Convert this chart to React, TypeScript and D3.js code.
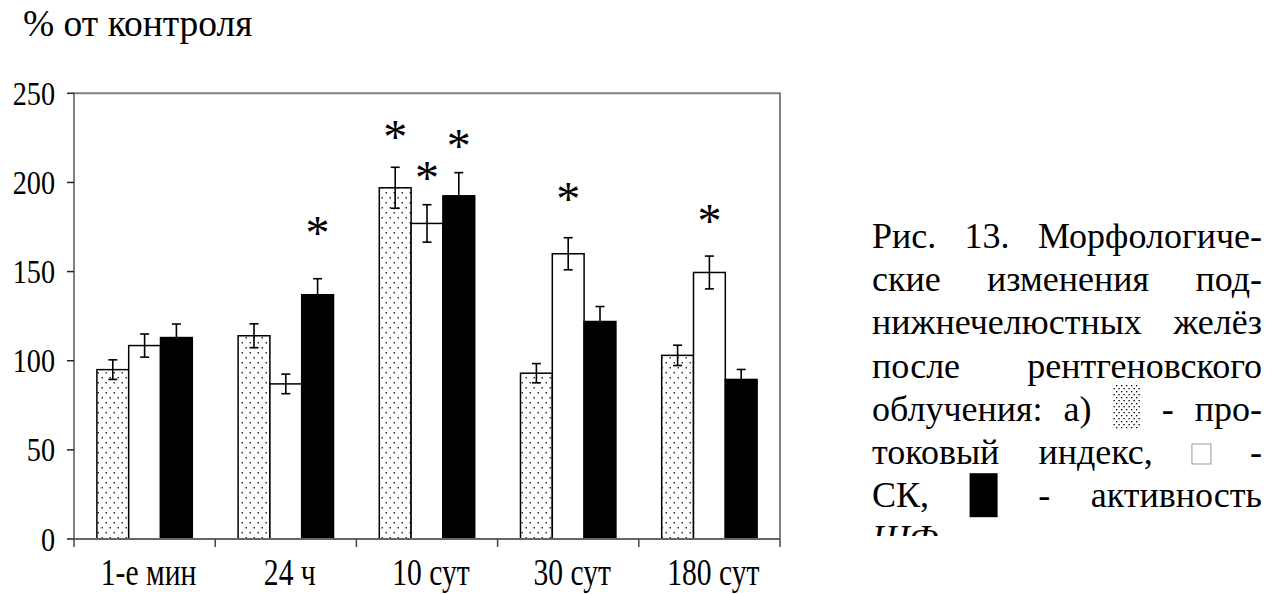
import React, { useRef, useEffect } from 'react';
import * as d3 from 'd3';

const categories = ['1-е мин', '24 ч', '10 сут', '30 сут', '180 сут'];
const seriesKeys = ['index', 'sk', 'shf'];

// проточковый индекс (dotted)
const indexValues = [95, 114, 197, 93, 103];
const indexErrors = [5.5, 6.7, 11.5, 5.4, 5.7];
// СК (white)
const skValues = [108.5, 87, 177, 160, 149.5];
const skErrors = [6.5, 5.5, 10.5, 9, 9.2];
// активность ЩФ (black)
const shfValues = [113, 137, 192.5, 122, 89.5];
const shfErrors = [7.6, 9, 13, 8.4, 5.6];

// asterisk positions (value units), null = no mark
const indexStars = [null, null, 229, null, null];
const skStars = [null, null, 206, 194, 182];
const shfStars = [null, 175, 224, null, null];

const yTicks = [0, 50, 100, 150, 200, 250];
const yTitle = '% от контроля';

type Item = string | { sw: 'dot' | 'white' | 'black' };
const captionLines: { items: Item[]; justify: boolean; italic?: boolean }[] = [
  { items: ['Рис.', '13.', 'Морфологиче-'], justify: true },
  { items: ['ские', 'изменения', 'под-'], justify: true },
  { items: ['нижнечелюстных', 'желёз'], justify: true },
  { items: ['после', 'рентгеновского'], justify: true },
  { items: ['облучения:', 'а)', { sw: 'dot' }, '-', 'про-'], justify: true },
  { items: ['токовый', 'индекс,', { sw: 'white' }, '-'], justify: true },
  { items: ['СК,', { sw: 'black' }, '-', 'активность'], justify: true },
  { items: ['ЩФ'], justify: false, italic: true }
];

const FONT = "'Liberation Serif', 'Times New Roman', 'DejaVu Serif', serif";

export default function App() {
  const svgRef = useRef<SVGSVGElement>(null);

  useEffect(() => {
    if (!svgRef.current) return;
    const svg = d3.select(svgRef.current);
    svg.selectAll('*').remove();

    const left = 74, right = 780, top = 93.3, bottom = 539;

    const defs = svg.append('defs');
    const pat = defs
      .append('pattern')
      .attr('id', 'dots')
      .attr('patternUnits', 'userSpaceOnUse')
      .attr('width', 8)
      .attr('height', 10);
    pat.append('rect').attr('width', 8).attr('height', 10).attr('fill', '#fff');
    pat.append('rect').attr('x', 1.5).attr('y', 2).attr('width', 1.5).attr('height', 1.5).attr('fill', '#333');
    pat.append('rect').attr('x', 5.5).attr('y', 7).attr('width', 1.5).attr('height', 1.5).attr('fill', '#333');

    const pat2 = defs
      .append('pattern')
      .attr('id', 'dotsFine')
      .attr('patternUnits', 'userSpaceOnUse')
      .attr('width', 5)
      .attr('height', 6);
    pat2.append('rect').attr('width', 5).attr('height', 6).attr('fill', '#fff');
    pat2.append('rect').attr('x', 1).attr('y', 1).attr('width', 1.3).attr('height', 1.3).attr('fill', '#000');
    pat2.append('rect').attr('x', 3.5).attr('y', 4).attr('width', 1.3).attr('height', 1.3).attr('fill', '#000');

    defs
      .append('clipPath')
      .attr('id', 'capClip')
      .append('rect')
      .attr('x', 800)
      .attr('y', 0)
      .attr('width', 466)
      .attr('height', 536);

    const x = d3.scaleBand<string>().domain(categories).range([left, right]);
    const xs = d3
      .scaleBand<string>()
      .domain(seriesKeys)
      .range([0, x.bandwidth()])
      .paddingInner(0)
      .paddingOuter(0.72);
    const y = d3.scaleLinear().domain([0, 250]).range([bottom, top]);

    // title
    svg
      .append('text')
      .attr('x', 23)
      .attr('y', 36)
      .style('font-family', FONT)
      .attr('font-size', 37.5)
      .text(yTitle);

    // frame
    svg
      .append('path')
      .attr('d', `M${left},${bottom}V${top}H${right}V${bottom}`)
      .attr('fill', 'none')
      .attr('stroke', '#808080')
      .attr('stroke-width', 2);

    // y ticks + labels
    yTicks.forEach((t) => {
      svg
        .append('line')
        .attr('x1', left - 7)
        .attr('x2', left)
        .attr('y1', y(t))
        .attr('y2', y(t))
        .attr('stroke', '#222')
        .attr('stroke-width', 1.5);
      svg
        .append('g')
        .attr('transform', `translate(55,${y(t) + 11.5})`)
        .append('text')
        .attr('transform', 'scale(0.83,1)')
        .attr('text-anchor', 'end')
        .style('font-family', FONT)
        .attr('font-size', 34)
        .text(t);
    });

    const series = [
      { key: 'index', vals: indexValues, errs: indexErrors, stars: indexStars, fill: 'url(#dots)' },
      { key: 'sk', vals: skValues, errs: skErrors, stars: skStars, fill: '#fff' },
      { key: 'shf', vals: shfValues, errs: shfErrors, stars: shfStars, fill: '#000' }
    ];

    series.forEach((s) => {
      categories.forEach((c, i) => {
        const bx = (x(c) as number) + (xs(s.key) as number);
        const bw = xs.bandwidth();
        svg
          .append('rect')
          .attr('x', bx)
          .attr('y', y(s.vals[i]))
          .attr('width', bw)
          .attr('height', bottom - y(s.vals[i]))
          .attr('fill', s.fill)
          .attr('stroke', '#000')
          .attr('stroke-width', 1.5);
      });
    });

    // error bars + asterisks
    series.forEach((s) => {
      categories.forEach((c, i) => {
        const cx = (x(c) as number) + (xs(s.key) as number) + xs.bandwidth() / 2;
        const hi = y(s.vals[i] + s.errs[i]);
        const lo = y(s.vals[i] - s.errs[i]);
        const eb = svg.append('g').attr('stroke', '#000').attr('stroke-width', 1.6);
        eb.append('line').attr('x1', cx).attr('x2', cx).attr('y1', hi).attr('y2', lo);
        eb.append('line').attr('x1', cx - 4.5).attr('x2', cx + 4.5).attr('y1', hi).attr('y2', hi);
        eb.append('line').attr('x1', cx - 4.5).attr('x2', cx + 4.5).attr('y1', lo).attr('y2', lo);
        const st = s.stars[i];
        if (st != null) {
          svg
            .append('text')
            .attr('x', cx)
            .attr('y', y(st) + 22)
            .attr('text-anchor', 'middle')
            .style('font-family', FONT)
            .attr('font-size', 48)
            .text('*');
        }
      });
    });

    // x axis line + ticks + labels
    svg
      .append('line')
      .attr('x1', left)
      .attr('x2', right)
      .attr('y1', bottom)
      .attr('y2', bottom)
      .attr('stroke', '#666')
      .attr('stroke-width', 2);
    [...categories.map((c) => x(c) as number), right].forEach((tx) => {
      svg
        .append('line')
        .attr('x1', tx)
        .attr('x2', tx)
        .attr('y1', bottom)
        .attr('y2', bottom + 8)
        .attr('stroke', '#444')
        .attr('stroke-width', 1.5);
    });
    categories.forEach((c) => {
      svg
        .append('g')
        .attr('transform', `translate(${(x(c) as number) + x.bandwidth() / 2 + 4},585)`)
        .append('text')
        .attr('transform', 'scale(0.8,1)')
        .attr('text-anchor', 'middle')
        .style('font-family', FONT)
        .attr('font-size', 37)
        .text(c);
    });

    // caption, justified
    const capL = 872, capR = 1262;
    const cap = svg.append('g').attr('clip-path', 'url(#capClip)');
    const swatch = {
      dot: { w: 28, top: -37, h: 45 },
      white: { w: 19, top: -20, h: 20 },
      black: { w: 28, top: -34, h: 44 }
    };
    captionLines.forEach((line, li) => {
      const base = 248 + li * 43.2;
      const nodes: { w: number; place: (px: number) => void }[] = line.items.map((it) => {
        if (typeof it === 'string') {
          const t = cap
            .append('text')
            .attr('y', base)
            .style('font-family', FONT)
            .attr('font-size', 36)
            .attr('font-style', line.italic ? 'italic' : 'normal')
            .text(it);
          const w = (t.node() as SVGTextElement).getComputedTextLength();
          return { w, place: (px: number) => t.attr('x', px) };
        }
        const sw = swatch[it.sw];
        const r = cap
          .append('rect')
          .attr('y', base + sw.top)
          .attr('width', sw.w)
          .attr('height', sw.h)
          .attr('fill', it.sw === 'dot' ? 'url(#dotsFine)' : it.sw === 'white' ? '#fff' : '#000')
          .attr('stroke', it.sw === 'white' ? '#999' : 'none')
          .attr('stroke-width', 1);
        return { w: sw.w, place: (px: number) => r.attr('x', px) };
      });
      const total = d3.sum(nodes, (n) => n.w);
      const gap = line.justify && nodes.length > 1 ? (capR - capL - total) / (nodes.length - 1) : 9;
      let px = capL;
      nodes.forEach((n) => {
        n.place(px);
        px += n.w + gap;
      });
    });
  }, []);

  return (
    <svg
      ref={svgRef}
      width={1266}
      height={594}
      style={{ position: 'absolute', left: 0, top: 0, background: '#fff' }}
    />
  );
}
